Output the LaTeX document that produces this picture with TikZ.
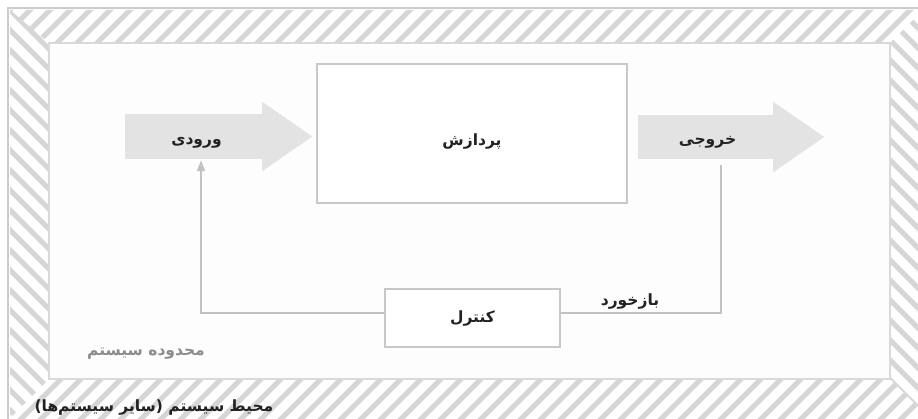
\documentclass[tikz,border=0pt]{standalone}
\usepackage{fontspec}
\usetikzlibrary{arrows.meta,calc}
\TeXXeTstate=1
\newfontfamily\fa[Script=Arabic]{DejaVu Sans}
\newcommand\fatext[2][0]{\raisebox{#1pt}[\height][\depth]{\fa\bfseries\fontsize{15.5}{18}\selectfont\beginR #2\endR}}
\definecolor{hatchgray}{HTML}{D6D6D6}
\definecolor{framegray}{HTML}{CCCCCC}
\definecolor{innergray}{HTML}{D9D9D9}
\definecolor{arrowgray}{HTML}{E3E3E3}
\definecolor{boxgray}{HTML}{C8C8C8}
\definecolor{linegray}{HTML}{C2C2C2}
\definecolor{darktext}{HTML}{222222}
\definecolor{softtext}{HTML}{8C8C8C}
\begin{document}
\begin{tikzpicture}[x=1pt,y=-1pt,
  hatch/.style={draw=hatchgray, line width=5pt},
  arrowbody/.style={fill=arrowgray, inner sep=0pt, text=darktext},
  box/.style={draw=boxgray, line width=1.5pt, fill=white, inner sep=0pt, text=darktext},
  conn/.style={draw=linegray, line width=1.5pt},
  lbl/.style={inner sep=0pt, text=darktext}]
\useasboundingbox (0,0) rectangle (918,419);
\fill[white] (0,0) rectangle (918,419);
% hatched environment band
\begin{scope}
  \clip (10,10) -- (923,10) -- (890,43) -- (49,43) -- cycle;
  \foreach \k in {-40,-20,...,960} \draw[hatch] (\k,60) -- (\k+60,0);
\end{scope}
\begin{scope}
  \clip (10,10) -- (49,43) -- (49,379) -- (10,418) -- cycle;
  \foreach \k in {-60,-40,...,440} \draw[hatch] (0,\k) -- (60,\k+60);
\end{scope}
\begin{scope}
  \clip (890,43) -- (923,10) -- (960,10) -- (960,449) -- (890,379) -- cycle;
  \foreach \k in {-120,-100,...,440} \draw[hatch] (850,\k) -- (970,\k+120);
\end{scope}
\begin{scope}
  \clip (49,379) -- (890,379) -- (960,449) -- (10,449) -- (10,418) -- cycle;
  \foreach \k in {-60,-40,...,960} \draw[hatch] (\k,440) -- (\k+70,370);
\end{scope}
\draw[framegray, line width=2pt] (8,8) rectangle (940,440);
% system boundary
\draw[innergray, line width=1.5pt, fill={rgb,255:red,253;green,253;blue,253}] (49,43) rectangle (890,379);
% input / output arrows
\node[arrowbody, minimum width=137pt, minimum height=45pt] (in) at (193.5,136.5) {\hspace{6pt}\fatext[-6]{ورودی}};
\fill[arrowgray] ([yshift=12pt]in.north east) -- ([xshift=50pt]in.east) -- ([yshift=-12pt]in.south east) -- cycle;
\node[arrowbody, minimum width=135pt, minimum height=44pt] (out) at (705.5,137) {\hspace{4pt}\fatext[-5]{خروجی}};
\fill[arrowgray] ([yshift=13pt]out.north east) -- ([xshift=51pt]out.east) -- ([yshift=-13pt]out.south east) -- cycle;
% process and control
\node[box, minimum width=310pt, minimum height=139pt] (proc) at (472,133.5) {\fatext[-8]{پردازش}};
\node[box, minimum width=175pt, minimum height=58pt] (ctrl) at (472.5,318) {\fatext[-1]{کنترل}};
% feedback loop
\draw[conn] ([xshift=15.5pt,yshift=-6pt]out.south) |- ([yshift=5pt]ctrl.east);
\draw[conn, -{Triangle[length=11pt,width=8pt,fill=linegray]}] ([yshift=5pt]ctrl.west) -| ([xshift=7.5pt,yshift=-1pt]in.south);
% labels
\node[lbl] (fb) at (630,302) {\fatext{بازخورد}};
\node[lbl, text=softtext] (bound) at (146,354) {\fatext{محدوده سیستم}};
\node[lbl] (env) at (154,408) {\fatext{محیط سیستم (سایر سیستم‌ها)}};
\end{tikzpicture}
\end{document}
